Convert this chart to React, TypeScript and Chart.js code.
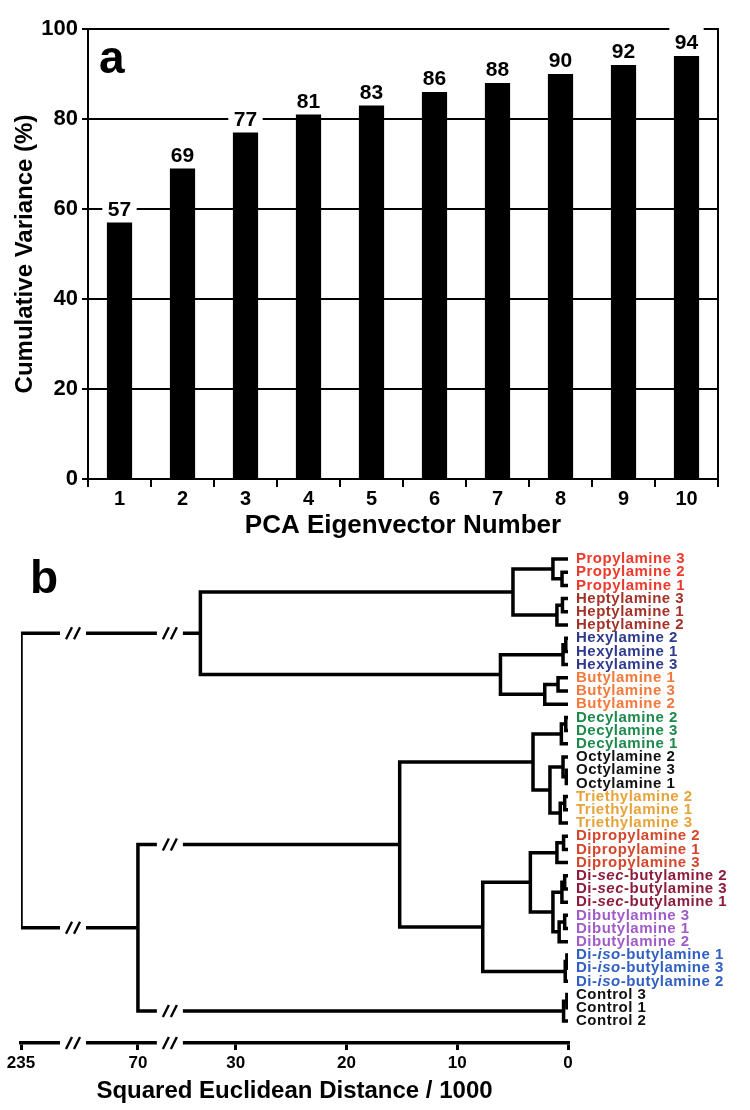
import React, { useEffect, useRef } from "react";
import { Chart, registerables } from "chart.js";

Chart.register(...registerables);

const FONT = "'Liberation Sans', Arial, Helvetica, sans-serif";
Chart.defaults.font.family = FONT;
Chart.defaults.color = "#000";

// ---------- Panel a: cumulative variance ----------
const PCA_COMPONENTS = ["1", "2", "3", "4", "5", "6", "7", "8", "9", "10"];
const CUMULATIVE_VARIANCE = [57, 69, 77, 81, 83, 86, 88, 90, 92, 94];

// ---------- Panel b: dendrogram ----------
const SAMPLE_LABELS = [
  "Propylamine 3", "Propylamine 2", "Propylamine 1",
  "Heptylamine 3", "Heptylamine 1", "Heptylamine 2",
  "Hexylamine 2", "Hexylamine 1", "Hexylamine 3",
  "Butylamine 1", "Butylamine 3", "Butylamine 2",
  "Decylamine 2", "Decylamine 3", "Decylamine 1",
  "Octylamine 2", "Octylamine 3", "Octylamine 1",
  "Triethylamine 2", "Triethylamine 1", "Triethylamine 3",
  "Dipropylamine 2", "Dipropylamine 1", "Dipropylamine 3",
  "Di-*sec*-butylamine 2", "Di-*sec*-butylamine 3", "Di-*sec*-butylamine 1",
  "Dibutylamine 3", "Dibutylamine 1", "Dibutylamine 2",
  "Di-*iso*-butylamine 1", "Di-*iso*-butylamine 3", "Di-*iso*-butylamine 2",
  "Control 3", "Control 1", "Control 2",
];

const C_PROPYL = "#ee3a2c";
const C_HEPTYL = "#a33228";
const C_HEXYL = "#2e3a8c";
const C_BUTYL = "#f5793b";
const C_DECYL = "#1d8a4c";
const C_OCTYL = "#111111";
const C_TRIETHYL = "#e6a33a";
const C_DIPROPYL = "#d4472c";
const C_DISEC = "#8c1c3c";
const C_DIBUTYL = "#a05cc8";
const C_DIISO = "#3160c4";
const C_CONTROL = "#111111";

const SAMPLE_COLORS = [
  C_PROPYL, C_PROPYL, C_PROPYL,
  C_HEPTYL, C_HEPTYL, C_HEPTYL,
  C_HEXYL, C_HEXYL, C_HEXYL,
  C_BUTYL, C_BUTYL, C_BUTYL,
  C_DECYL, C_DECYL, C_DECYL,
  C_OCTYL, C_OCTYL, C_OCTYL,
  C_TRIETHYL, C_TRIETHYL, C_TRIETHYL,
  C_DIPROPYL, C_DIPROPYL, C_DIPROPYL,
  C_DISEC, C_DISEC, C_DISEC,
  C_DIBUTYL, C_DIBUTYL, C_DIBUTYL,
  C_DIISO, C_DIISO, C_DIISO,
  C_CONTROL, C_CONTROL, C_CONTROL,
];

// linkage: [child A, child B, distance/1000]; ids >= 36 refer to earlier merges
const MERGES: [number, number, number][] = [
  [1, 2, 0.54],    // 36
  [0, 36, 1.36],   // 37
  [3, 4, 0.5],     // 38
  [38, 5, 1.0],    // 39
  [37, 39, 4.97],  // 40
  [6, 7, 0.2],     // 41
  [41, 8, 0.45],   // 42
  [9, 10, 0.9],    // 43
  [43, 11, 2.1],   // 44
  [42, 44, 6.1],   // 45
  [40, 45, 33.2],  // 46
  [12, 13, 0.2],   // 47
  [47, 14, 0.6],   // 48
  [16, 17, 0.15],  // 49
  [15, 49, 0.45],  // 50
  [18, 19, 0.3],   // 51
  [51, 20, 0.7],   // 52
  [50, 52, 1.63],  // 53
  [48, 53, 3.16],  // 54
  [21, 22, 0.4],   // 55
  [55, 23, 1.0],   // 56
  [24, 25, 0.3],   // 57
  [57, 26, 0.55],  // 58
  [27, 28, 0.3],   // 59
  [59, 29, 0.8],   // 60
  [58, 60, 1.36],  // 61
  [56, 61, 3.4],   // 62
  [30, 31, 0.1],   // 63
  [63, 32, 0.25],  // 64
  [62, 64, 7.7],   // 65
  [54, 65, 15.2],  // 66
  [33, 34, 0.1],   // 67
  [67, 35, 0.4],   // 68
  [66, 68, 70],    // 69
  [46, 69, 235],   // 70
];

const DIST_TICKS = [235, 70, 30, 20, 10, 0];
const AXIS_BREAKS = [43.7, 161.6];
// broken axis: distance -> axis position anchors
const SCALE_DIST = [0, 35, 70, 235];
const SCALE_POS = [0, 35, 38.84, 49.4];

function toAxis(d: number): number {
  for (let i = 1; i < SCALE_DIST.length; i++) {
    if (d <= SCALE_DIST[i]) {
      const t = (d - SCALE_DIST[i - 1]) / (SCALE_DIST[i] - SCALE_DIST[i - 1]);
      return SCALE_POS[i - 1] + t * (SCALE_POS[i] - SCALE_POS[i - 1]);
    }
  }
  return SCALE_POS[SCALE_POS.length - 1];
}

// tree layout (leaf order index, node position = mean of children)
const nodeY: number[] = SAMPLE_LABELS.map((_, i) => i);
const nodeD: number[] = SAMPLE_LABELS.map(() => 0);
MERGES.forEach(([a, b, d]) => {
  nodeY.push((nodeY[a] + nodeY[b]) / 2);
  nodeD.push(d);
});

const SEGMENTS = MERGES.map(([a, b, d]) => [
  { x: toAxis(nodeD[a]), y: nodeY[a] },
  { x: toAxis(d), y: nodeY[a] },
  { x: toAxis(d), y: nodeY[b] },
  { x: toAxis(nodeD[b]), y: nodeY[b] },
]);

const barPlugin = {
  id: "barDecor",
  afterDatasetsDraw(chart: any) {
    const { ctx, chartArea } = chart;
    const meta = chart.getDatasetMeta(0);
    ctx.save();
    ctx.font = `bold 21px ${FONT}`;
    ctx.textAlign = "center";
    ctx.textBaseline = "alphabetic";
    meta.data.forEach((bar: any, i: number) => {
      const text = String(CUMULATIVE_VARIANCE[i]);
      const w = ctx.measureText(text).width;
      const base = bar.y - 7;
      ctx.fillStyle = "#fff";
      ctx.fillRect(bar.x - w / 2 - 5.5, base - 23, w + 11, bar.y - (base - 23) - 1);
      ctx.fillStyle = "#000";
      ctx.fillText(text, bar.x, base);
    });
    ctx.restore();
  },
  afterDraw(chart: any) {
    const { ctx, chartArea } = chart;
    ctx.save();
    ctx.strokeStyle = "#000";
    ctx.lineWidth = 2;
    ctx.beginPath();
    ctx.moveTo(chartArea.right, chartArea.top - 1);
    ctx.lineTo(chartArea.right, chartArea.bottom);
    ctx.stroke();
    ctx.fillStyle = "#000";
    ctx.font = `bold 46px ${FONT}`;
    ctx.textAlign = "left";
    ctx.textBaseline = "alphabetic";
    ctx.fillText("a", chartArea.left + 11, chartArea.top + 44);
    ctx.restore();
  },
};

const dendroPlugin = {
  id: "dendroDecor",
  afterDatasetsDraw(chart: any) {
    const { ctx, chartArea } = chart;
    const x = chart.scales.x;
    const y = chart.scales.y;
    const drawBreak = (px: number, py: number) => {
      ctx.save();
      ctx.fillStyle = "#fff";
      ctx.fillRect(px - 13, py - 4.5, 26, 9);
      ctx.strokeStyle = "#000";
      ctx.lineWidth = 2.4;
      ctx.lineCap = "butt";
      for (const o of [-4, 4]) {
        ctx.beginPath();
        ctx.moveTo(px + o - 3, py + 6);
        ctx.lineTo(px + o + 3, py - 6);
        ctx.stroke();
      }
      ctx.restore();
    };
    MERGES.forEach(([a, b, d]) => {
      [a, b].forEach((c) => {
        AXIS_BREAKS.forEach((bd) => {
          if (nodeD[c] < bd && bd < d) {
            drawBreak(x.getPixelForValue(toAxis(bd)), y.getPixelForValue(nodeY[c]));
          }
        });
      });
    });
    AXIS_BREAKS.forEach((bd) => drawBreak(x.getPixelForValue(toAxis(bd)), chartArea.bottom));

    ctx.save();
    ctx.textBaseline = "middle";
    ctx.textAlign = "left";
    (ctx as any).letterSpacing = "0.5px";
    SAMPLE_LABELS.forEach((lab, i) => {
      let px = chartArea.right + 8;
      const py = y.getPixelForValue(i);
      lab.split("*").forEach((part, k) => {
        ctx.font = `${k % 2 ? "italic " : ""}bold 15px ${FONT}`;
        ctx.fillStyle = SAMPLE_COLORS[i];
        ctx.fillText(part, px, py);
        px += ctx.measureText(part).width;
      });
    });
    (ctx as any).letterSpacing = "0px";
    ctx.fillStyle = "#000";
    ctx.font = `bold 46px ${FONT}`;
    ctx.textBaseline = "alphabetic";
    ctx.fillText("b", 30, 53);
    ctx.restore();
  },
};

export default function App() {
  const topRef = useRef<HTMLCanvasElement>(null);
  const botRef = useRef<HTMLCanvasElement>(null);

  useEffect(() => {
    const c1 = new Chart(topRef.current as HTMLCanvasElement, {
      type: "bar",
      data: {
        labels: PCA_COMPONENTS,
        datasets: [
          {
            data: CUMULATIVE_VARIANCE,
            backgroundColor: "#000",
            barPercentage: 0.4,
            categoryPercentage: 1,
          },
        ],
      },
      options: {
        animation: false,
        responsive: false,
        devicePixelRatio: 1,
        layout: { padding: { left: 0, top: 29, right: 32, bottom: 0 } },
        plugins: { legend: { display: false }, tooltip: { enabled: false } },
        scales: {
          x: {
            grid: {
              display: true,
              drawOnChartArea: false,
              drawTicks: true,
              tickLength: 8,
              color: "#000",
              lineWidth: 2,
              offset: true,
            },
            border: { display: true, color: "#000", width: 2 },
            ticks: {
              color: "#000",
              font: { family: FONT, size: 20, weight: "bold" },
              padding: 0,
              maxRotation: 0,
            },
            title: {
              display: true,
              text: "PCA Eigenvector Number",
              color: "#000",
              font: { family: FONT, size: 26, weight: "bold" },
              padding: { top: 0, bottom: -1 },
            },
            afterFit: (s: any) => {
              s.height = 61;
            },
          },
          y: {
            min: 0,
            max: 100,
            ticks: {
              stepSize: 20,
              color: "#000",
              font: { family: FONT, size: 22, weight: "bold" },
              padding: 4,
            },
            grid: { color: "#000", lineWidth: 2, tickLength: 6, drawTicks: true },
            border: { display: true, color: "#000", width: 2 },
            title: {
              display: true,
              text: "Cumulative Variance (%)",
              color: "#000",
              font: { family: FONT, size: 24, weight: "bold" },
              padding: { top: 11, bottom: 0 },
            },
            afterFit: (s: any) => {
              s.width = 88;
            },
          },
        },
      } as any,
      plugins: [barPlugin],
    });

    const c2 = new Chart(botRef.current as HTMLCanvasElement, {
      type: "line",
      data: {
        datasets: SEGMENTS.map((data) => ({
          data,
          borderColor: "#000",
          borderWidth: 3.5,
          pointRadius: 0,
          tension: 0,
          fill: false,
          borderJoinStyle: "miter",
          borderCapStyle: "butt",
        })),
      } as any,
      options: {
        animation: false,
        responsive: false,
        devicePixelRatio: 1,
        layout: { padding: { left: 21, right: 182, top: 0, bottom: 0 } },
        plugins: { legend: { display: false }, tooltip: { enabled: false } },
        scales: {
          x: {
            type: "linear",
            reverse: true,
            min: 0,
            max: toAxis(235),
            afterBuildTicks: (s: any) => {
              s.ticks = DIST_TICKS.map((v) => ({ value: toAxis(v) }));
            },
            ticks: {
              autoSkip: false,
              maxRotation: 0,
              callback: (_v: any, i: number) => String(DIST_TICKS[i]),
              color: "#000",
              font: { family: FONT, size: 17, weight: "bold" },
              padding: 3,
            },
            grid: {
              display: true,
              drawOnChartArea: false,
              drawTicks: true,
              tickLength: 7,
              color: "#000",
              lineWidth: 3,
            },
            border: { display: true, color: "#000", width: 3.5 },
            title: {
              display: true,
              text: "Squared Euclidean Distance / 1000",
              color: "#000",
              font: { family: FONT, size: 24, weight: "bold" },
              padding: { top: 0, bottom: 4 },
            },
            afterFit: (s: any) => {
              s.height = 67;
            },
          },
          y: {
            type: "linear",
            display: false,
            reverse: true,
            min: -1.44,
            max: 36.67,
          },
        },
      } as any,
      plugins: [dendroPlugin],
    });

    return () => {
      c1.destroy();
      c2.destroy();
    };
  }, []);

  return (
    <div
      style={{
        position: "absolute",
        left: 0,
        top: 0,
        width: 750,
        height: 1110,
        background: "#fff",
      }}
    >
      <canvas
        ref={topRef}
        width={750}
        height={540}
        style={{ position: "absolute", left: 0, top: 0 }}
      />
      <canvas
        ref={botRef}
        width={750}
        height={570}
        style={{ position: "absolute", left: 0, top: 540 }}
      />
    </div>
  );
}
